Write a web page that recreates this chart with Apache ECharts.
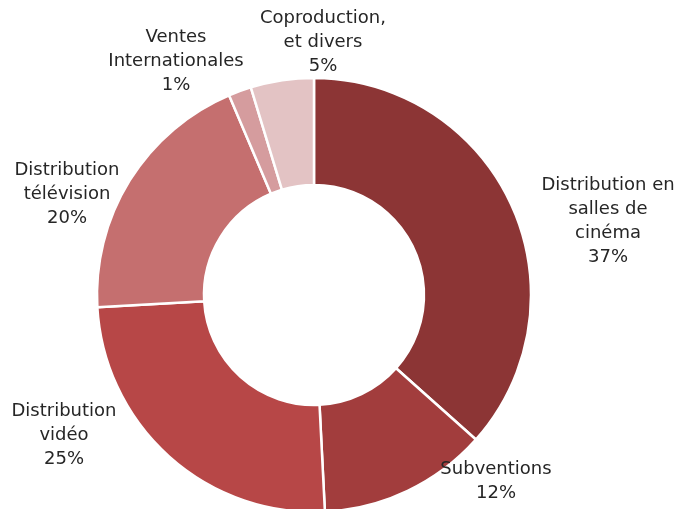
<!DOCTYPE html>
<html><head><meta charset="utf-8">
<script src="https://cdn.jsdelivr.net/npm/echarts@6/dist/echarts.min.js"></script>
<style>html,body{margin:0;padding:0;background:#fff}#c{width:677px;height:509px}</style>
</head><body><div id="c"></div>
<script>
const categories = ["Distribution en\nsalles de\ncinéma", "Subventions", "Distribution\nvidéo", "Distribution\ntélévision", "Ventes\nInternationales", "Coproduction,\net divers"];
const values = [36.6, 12.6, 24.9, 19.5, 1.7, 4.7];
const labelPct = ["37%", "12%", "25%", "20%", "1%", "5%"];
const colors = ["#8c3535", "#a23d3d", "#b74747", "#c56f6f", "#d59c9e", "#e3c3c4"];
const labelPos = [[608, 221], [496, 481], [64, 435], [67, 194], [176, 61], [323, 42]];

const chart = echarts.init(document.getElementById('c'), null, {renderer: 'canvas'});
chart.setOption({
  animation: false,
  series: [{
    type: 'pie',
    center: [314, 295],
    radius: [110, 217],
    startAngle: 90,
    clockwise: true,
    avoidLabelOverlap: false,
    itemStyle: {borderColor: '#fff', borderWidth: 2.5},
    label: {
      show: true,
      position: 'outside',
      fontFamily: 'DejaVu Sans',
      fontSize: 18,
      lineHeight: 24,
      color: '#262626',
      align: 'center',
      formatter: p => categories[p.dataIndex] + '\n' + labelPct[p.dataIndex]
    },
    labelLine: {show: false},
    labelLayout: function (params) {
      const p = labelPos[params.dataIndex];
      return {x: p[0], y: p[1], align: 'center', verticalAlign: 'middle'};
    },
    data: categories.map((c, i) => ({name: c, value: values[i], itemStyle: {color: colors[i]}}))
  }]
});
</script></body></html>
